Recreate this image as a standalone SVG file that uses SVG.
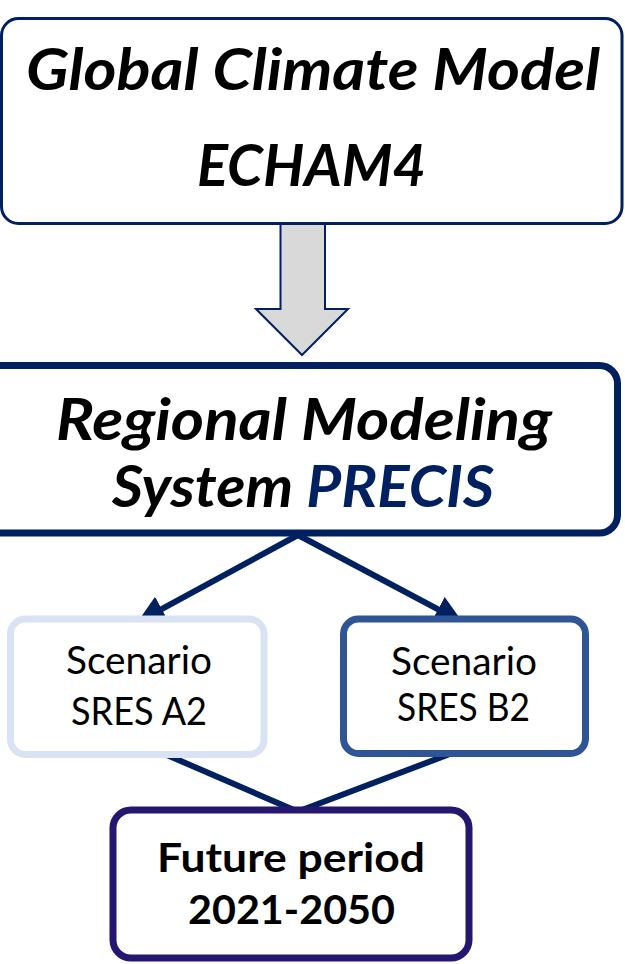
<svg xmlns="http://www.w3.org/2000/svg" width="625" height="964" viewBox="0 0 625 964">
  <style>
    .big { font-family: Lato, "Open Sans", "Liberation Sans", sans-serif; font-weight: bold; font-style: italic; font-size: 58px; fill: #000; }
    .scen { font-family: Lato, "Open Sans", "Liberation Sans", sans-serif; font-size: 38px; fill: #000; }
    .fut { font-family: Lato, "Open Sans", "Liberation Sans", sans-serif; font-weight: bold; font-size: 41px; fill: #000; }
    .box { fill: #fff; }
    .conn { stroke: #002060; stroke-width: 6; fill: none; }
  </style>
  <defs>
    <marker id="ah" markerUnits="userSpaceOnUse" viewBox="0 0 28 28" markerWidth="28" markerHeight="28" refX="7" refY="14" orient="auto">
      <path d="M0,0 L28,14 L0,28 z" fill="#002060"/>
    </marker>
  </defs>
  <rect width="625" height="964" fill="#fff"/>

  <g id="connectors">
    <polygon points="280.5,223.5 325,223.5 325,309 348,309 302,355 256,309 280.5,309" fill="#d9d9d9" stroke="#002060" stroke-width="2" stroke-linejoin="miter"/>
    <line class="conn" x1="298" y1="535" x2="155.6" y2="612.4" marker-end="url(#ah)"/>
    <line class="conn" x1="298" y1="535" x2="444.3" y2="612.6" marker-end="url(#ah)"/>
    <line class="conn" x1="160" y1="752" x2="294" y2="810"/>
    <line class="conn" x1="455" y1="752" x2="302" y2="810"/>
  </g>

  <g id="gcm">
    <rect class="box" x="1.5" y="18.5" width="620.5" height="205" rx="17" stroke="#002060" stroke-width="3"/>
    <text class="big" x="313" y="90" text-anchor="middle" textLength="574" lengthAdjust="spacingAndGlyphs">Global Climate Model</text>
    <text class="big" x="311.5" y="186" text-anchor="middle" textLength="229" lengthAdjust="spacingAndGlyphs">ECHAM4</text>
  </g>

  <g id="precis">
    <rect class="box" x="-20" y="365.5" width="637.5" height="167.5" rx="18" stroke="#002060" stroke-width="7"/>
    <text class="big" x="304" y="440" text-anchor="middle" textLength="496" lengthAdjust="spacingAndGlyphs">Regional Modeling</text>
    <text class="big" x="303" y="507" text-anchor="middle" textLength="382" lengthAdjust="spacingAndGlyphs">System <tspan fill="#002060">PRECIS</tspan></text>
  </g>

  <g id="a2">
    <rect class="box" x="10.5" y="619" width="253.5" height="135.5" rx="15" stroke="#dae3f3" stroke-width="7"/>
    <text class="scen" x="139" y="674" text-anchor="middle" textLength="146" lengthAdjust="spacingAndGlyphs">Scenario</text>
    <text class="scen" x="139" y="725" text-anchor="middle" textLength="136" lengthAdjust="spacingAndGlyphs">SRES A2</text>
  </g>

  <g id="b2">
    <rect class="box" x="343.5" y="619" width="242" height="134.5" rx="15" stroke="#2f5597" stroke-width="7"/>
    <text class="scen" x="464" y="675" text-anchor="middle" textLength="146" lengthAdjust="spacingAndGlyphs">Scenario</text>
    <text class="scen" x="463.5" y="721" text-anchor="middle" textLength="133" lengthAdjust="spacingAndGlyphs">SRES B2</text>
  </g>

  <g id="future">
    <rect class="box" x="113" y="810" width="356" height="148" rx="18" stroke="#25166f" stroke-width="7"/>
    <text class="fut" x="291" y="872" text-anchor="middle" textLength="268" lengthAdjust="spacingAndGlyphs">Future period</text>
    <text class="fut" x="291.5" y="924" text-anchor="middle" textLength="207" lengthAdjust="spacingAndGlyphs">2021-2050</text>
  </g>
</svg>
